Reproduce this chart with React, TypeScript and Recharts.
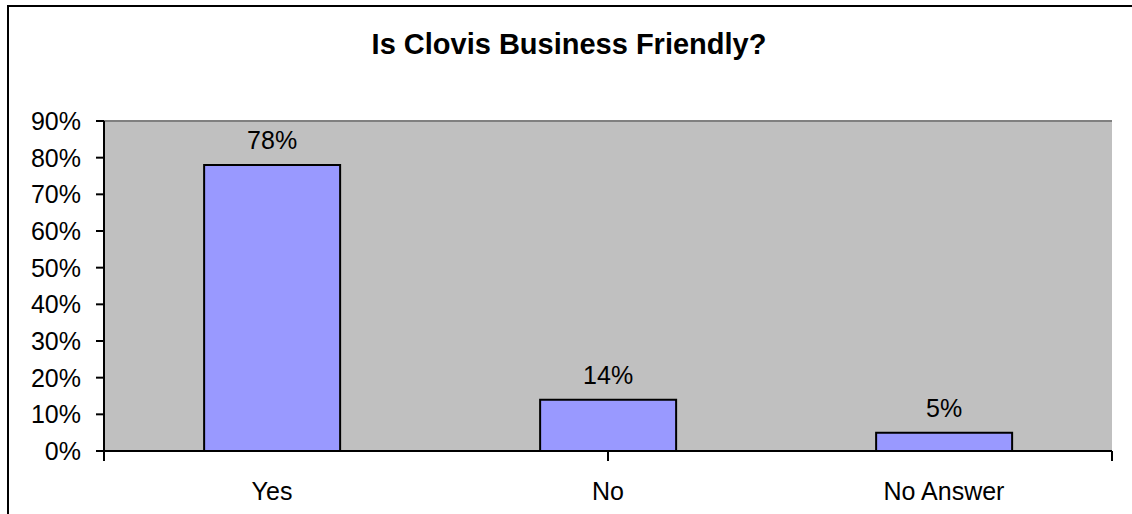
import React from 'react';
import { BarChart, Bar, XAxis, YAxis, CartesianGrid, LabelList } from 'recharts';

// Survey answers and their share of respondents (percent)
const categories = ['Yes', 'No', 'No Answer'];
const shares = [78, 14, 5];
const percentTicks = [0, 10, 20, 30, 40, 50, 60, 70, 80, 90];
// Category boundaries, used for the tick marks between columns
const boundaryTicks = [0, 1, 2, 3];

const data = categories.map((name, i) => ({ name, value: shares[i] }));

const FONT = '"Liberation Sans", Arial, Helvetica, sans-serif';
const W = 1132;
const H = 514;

export default function App() {
  return (
    <div
      style={{
        position: 'absolute',
        left: 0,
        top: 0,
        width: W,
        height: H,
        overflow: 'hidden',
        background: '#ffffff',
        fontFamily: FONT,
      }}
    >
      {/* chart frame (top and left edges) */}
      <div
        style={{
          position: 'absolute',
          left: 7,
          top: 5,
          width: W + 50,
          height: H + 50,
          borderTop: '2px solid #000',
          borderLeft: '2px solid #000',
          boxSizing: 'border-box',
        }}
      />
      <div style={{ position: 'absolute', left: 0, top: 0 }}>
        <BarChart
          width={W}
          height={H}
          data={data}
          margin={{ top: 121, right: 20, bottom: 61, left: 0 }}
          barCategoryGap="29.8%"
        >
          {/* grey plot background with its top and right edges */}
          <CartesianGrid
            xAxisId="bounds"
            yAxisId="pct"
            fill="#C0C0C0"
            fillOpacity={1}
            stroke="#808080"
            strokeWidth={2}
            strokeDasharray="0"
            horizontalValues={[90]}
            verticalValues={[3]}
          />
          <XAxis
            xAxisId="bounds"
            type="number"
            domain={[0, 3]}
            allowDataOverflow
            ticks={boundaryTicks}
            height={1}
            tickSize={10}
            tickFormatter={() => ''}
            axisLine={{ stroke: '#000', strokeWidth: 2 }}
            tickLine={{ stroke: '#000', strokeWidth: 2 }}
          />
          <XAxis
            xAxisId="cat"
            dataKey="name"
            height={1}
            tickSize={0}
            tickMargin={30}
            axisLine={false}
            tickLine={false}
            interval={0}
            tick={{ fill: '#000', fontSize: 25, fontFamily: FONT }}
          />
          <YAxis
            yAxisId="pct"
            domain={[0, 90]}
            ticks={percentTicks}
            allowDataOverflow
            width={104}
            tickSize={8}
            tickMargin={15}
            tickFormatter={(v: number) => `${v}%`}
            axisLine={{ stroke: '#000', strokeWidth: 2 }}
            tickLine={{ stroke: '#000', strokeWidth: 2 }}
            tick={{ fill: '#000', fontSize: 25, fontFamily: FONT }}
          />
          <Bar
            xAxisId="cat"
            yAxisId="pct"
            dataKey="value"
            fill="#9999FF"
            stroke="#000"
            strokeWidth={2}
            isAnimationActive={false}
          >
            <LabelList
              dataKey="value"
              position="top"
              offset={16}
              formatter={(v: number) => `${v}%`}
              fill="#000"
              fontSize={25}
              fontFamily={FONT}
            />
          </Bar>
        </BarChart>
      </div>
      {/* chart title */}
      <svg
        width={W}
        height={80}
        style={{ position: 'absolute', left: 0, top: 0, pointerEvents: 'none' }}
      >
        <text
          x={569}
          y={54}
          textAnchor="middle"
          fontFamily={FONT}
          fontWeight="bold"
          fontSize={29}
          fill="#000"
        >
          Is Clovis Business Friendly?
        </text>
      </svg>
    </div>
  );
}
